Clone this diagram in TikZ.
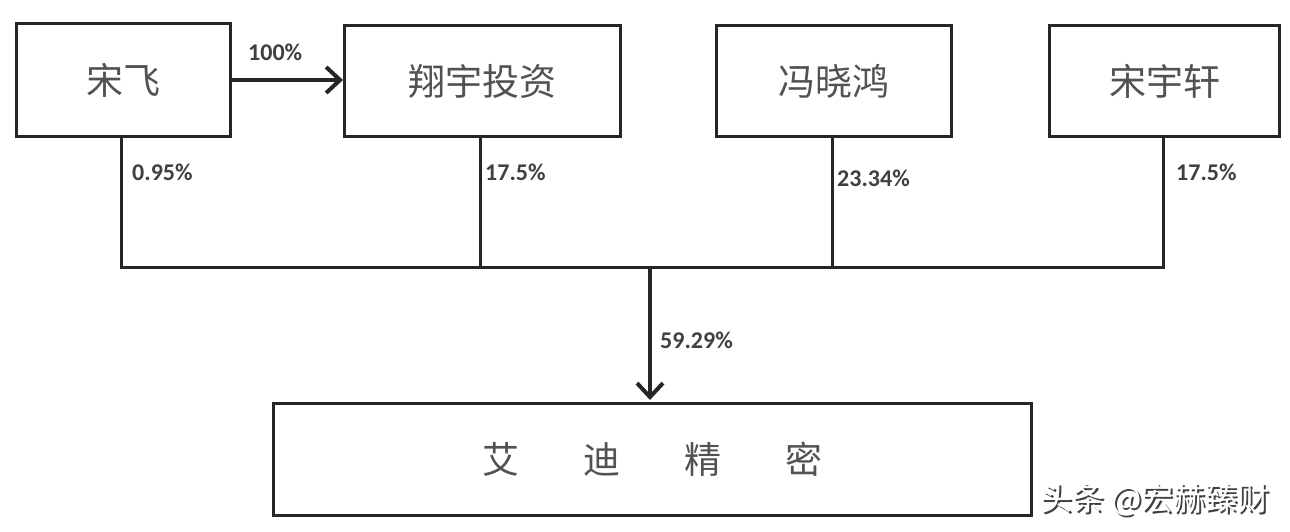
\documentclass[tikz,border=0pt]{standalone}
\usepackage{fontspec}
\setmainfont{Carlito}
\newfontfamily\cjk{Noto Sans CJK SC}
\usetikzlibrary{arrows.meta}
\begin{document}
\begin{tikzpicture}[x=1pt,y=-1pt,
  box/.style={draw=black!85,line width=3pt,inner sep=0pt,anchor=north west,font=\cjk\fontsize{37}{40}\selectfont,text=black!68},
  conn/.style={draw=black!85,line width=3pt},
  pct/.style={font=\bfseries\fontsize{24}{26}\selectfont,text=black!75,anchor=west,inner sep=0pt},
  tip/.style={-{Straight Barb[length=14pt,width=26pt,line width=4pt]}}]
\useasboundingbox (0,0) rectangle (1290,532);
\fill[white] (0,0) rectangle (1290,532);
\node[box,minimum width=214pt,minimum height=113pt] (sf) at (15,22) {宋飞};
\node[box,minimum width=276pt,minimum height=111pt] (xy) at (343,24) {翔宇投资};
\node[box,minimum width=235pt,minimum height=111pt] (fx) at (715,24) {冯晓鸿};
\node[box,minimum width=230pt,minimum height=111pt] (sy) at (1048,24) {宋宇轩};
\node[box,minimum width=758pt,minimum height=112pt] (ad) at (272,402) {艾\hspace{64pt}迪\hspace{64pt}精\hspace{64pt}密};
\coordinate (j1) at (121,267);
\coordinate (j2) at (480,267);
\coordinate (j3) at (832,267);
\coordinate (j4) at (1163,267);
\coordinate (jm) at (650,267);
\draw[conn] (121,135) -- (j1) -- (j4) -- (1163,136);
\draw[conn] (480,136) -- (j2);
\draw[conn] (832,136) -- (j3);
\draw[conn,line width=4.5pt,tip] (jm) -- (650,400);
\draw[conn,line width=4.5pt,tip] (sf.east |- 0,80) -- (xy.west |- 0,80);
\node[pct] (p100) at (248,52) {100\%};
\node[pct] (p1) at (132,172) {0.95\%};
\node[pct] (p2) at (485,172) {17.5\%};
\node[pct] (p3) at (837,178) {23.34\%};
\node[pct] (p4) at (1176,172) {17.5\%};
\node[pct] (p5) at (660,340) {59.29\%};
\node[font=\cjk\fontsize{32}{34}\selectfont,text=black!75,anchor=west,inner sep=0pt] (wm0) at (1042,502) {头条 @宏赫臻财};
\node[font=\cjk\fontsize{32}{34}\selectfont,text=white,anchor=west,inner sep=0pt] (wm) at (1040,500) {头条 @宏赫臻财};
\end{tikzpicture}
\end{document}
